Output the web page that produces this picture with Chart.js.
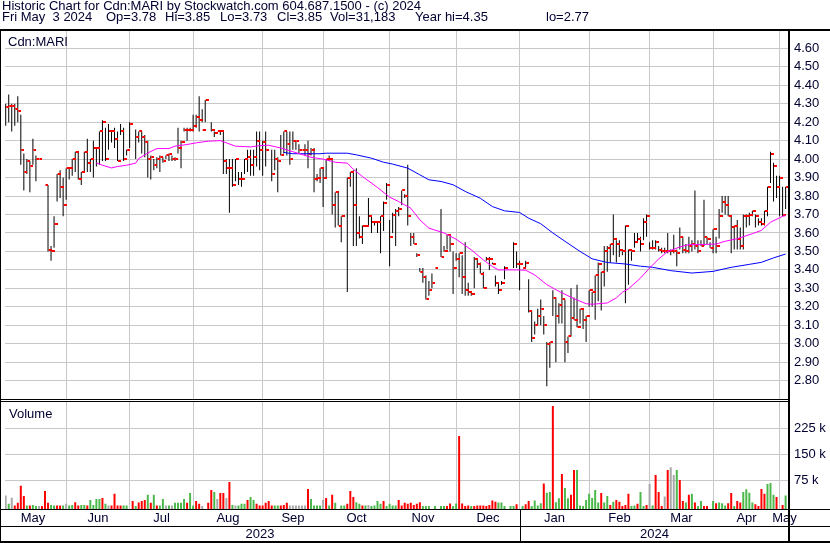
<!DOCTYPE html>
<html>
<head>
<meta charset="utf-8">
<script src="https://cdn.jsdelivr.net/npm/chart.js@4.4.0/dist/chart.umd.min.js"></script>
<style>
  html, body { margin: 0; padding: 0; background: #fff; }
  #wrap { position: relative; width: 830px; height: 543px; }
</style>
</head>
<body>
<div id="wrap"><canvas id="chart" width="830" height="543"></canvas></div>
<script>
// Daily bars, one entry per trading day (null = no trade)
const highs = [4.30,4.35,4.30,4.30,4.34,4.24,4.03,4.00,3.99,4.11,4.02,4.00,null,3.86,3.86,3.53,3.69,3.92,3.94,3.90,
  3.95,3.95,4.00,4.04,4.04,3.93,4.04,4.11,4.00,4.10,4.06,4.15,4.21,4.17,4.19,4.15,4.17,4.15,4.19,4.17,
  4.05,4.20,null,4.16,4.15,4.15,4.13,4.10,4.02,4.00,4.01,4.02,4.01,4.02,4.03,4.02,4.01,4.17,4.10,4.17,
  4.17,4.17,4.24,4.24,4.34,4.27,4.32,null,4.20,4.15,4.15,4.15,4.15,4.00,4.00,4.00,4.00,3.93,3.93,4.00,
  4.05,4.05,4.05,4.15,4.15,4.10,4.15,null,4.05,4.05,4.01,4.13,4.15,4.15,4.15,4.15,4.10,4.08,4.05,4.08,
  4.10,4.06,4.06,3.92,3.95,3.95,4.00,4.02,4.00,3.82,3.82,3.69,null,3.90,3.93,3.94,3.95,3.69,3.64,3.64,
  3.79,3.69,3.66,3.66,3.69,3.77,3.87,3.67,3.71,3.73,3.74,3.83,3.81,3.97,3.60,3.60,3.49,3.41,3.41,3.37,
  3.34,3.38,3.41,null,3.73,3.53,3.59,3.59,3.50,3.49,3.49,3.48,3.55,3.33,3.28,3.47,3.46,3.44,3.39,3.47,
  3.47,3.44,3.37,3.33,3.34,3.42,null,null,3.55,3.50,3.45,3.41,3.45,3.35,3.18,3.12,3.19,3.24,3.15,3.01,
  3.01,3.29,3.25,3.22,3.29,3.24,3.04,3.30,3.25,3.32,3.19,3.19,3.15,3.29,3.28,3.37,3.44,3.39,3.53,3.53,
  3.54,3.70,3.56,3.56,3.50,3.64,3.51,3.50,3.60,3.60,3.58,3.68,3.70,3.55,3.56,3.56,3.53,3.52,3.52,3.60,
  3.51,3.59,3.51,3.63,3.58,3.54,3.58,3.56,3.83,3.56,3.56,3.78,3.58,3.55,3.62,3.58,3.73,3.80,3.80,3.80,
  3.69,3.64,3.67,3.63,3.70,3.70,3.71,3.72,3.70,3.68,3.68,3.72,3.85,4.04,3.98,3.91,3.91,3.85,3.85];
const lows = [4.18,4.20,4.15,4.18,4.20,3.97,3.83,3.92,3.82,3.97,3.88,4.00,null,3.86,3.50,3.45,3.52,3.77,3.79,3.69,
  3.78,3.89,3.91,3.93,3.89,3.86,3.93,3.93,3.93,3.90,3.96,3.97,3.99,3.99,4.05,4.09,4.06,3.99,4.13,3.99,
  4.02,4.06,null,4.00,4.09,4.03,4.01,3.90,3.89,3.94,3.95,3.93,3.98,4.00,3.99,3.99,3.99,4.03,3.95,4.15,
  4.10,4.15,4.15,4.17,4.15,4.20,4.20,null,4.15,4.12,4.15,4.13,3.92,3.92,3.71,3.85,3.88,3.86,3.85,3.92,
  3.93,3.91,3.91,3.96,3.94,3.91,3.96,null,3.88,3.94,3.82,4.02,4.03,4.02,3.97,4.05,4.05,4.03,4.05,4.02,
  3.95,4.02,3.82,3.88,3.87,3.74,3.90,3.99,3.70,3.63,3.64,3.55,null,3.28,3.85,3.53,3.53,3.57,3.54,3.64,
  3.64,3.60,3.64,3.60,3.49,3.61,3.78,3.42,3.60,3.53,3.69,3.75,3.79,3.64,3.53,3.54,3.47,3.39,3.33,3.24,
  3.26,3.30,3.41,null,3.47,3.50,3.51,3.50,3.27,3.45,3.36,3.27,3.26,3.26,3.26,3.30,3.41,3.38,3.30,3.45,
  3.40,3.43,3.31,3.27,3.32,3.35,null,null,3.41,3.41,3.29,3.41,3.41,3.17,3.01,3.05,3.10,3.10,3.05,2.77,
  2.87,3.15,2.90,3.11,3.11,2.90,2.95,3.04,3.13,3.09,3.11,3.08,3.01,3.20,3.20,3.13,3.23,3.18,3.31,3.39,
  3.44,3.48,3.44,3.47,3.48,3.22,3.32,3.45,3.52,3.55,3.50,3.56,3.58,3.51,3.51,3.51,3.50,3.49,3.49,3.49,
  3.48,3.49,3.42,3.51,3.49,3.49,3.49,3.50,3.51,3.49,3.53,3.53,3.54,3.52,3.49,3.49,3.57,3.71,3.70,3.69,
  3.49,3.51,3.51,3.51,3.51,3.63,3.64,3.69,3.63,3.64,3.64,3.64,3.69,3.87,3.77,3.79,3.69,3.69,3.73];
const closes = [4.28,4.29,4.29,4.27,4.26,4.05,3.93,3.99,3.96,4.05,4.00,4.00,null,3.86,3.51,3.50,3.65,3.92,3.85,3.75,
  3.95,3.95,4.00,4.04,3.89,3.93,4.04,3.98,4.00,4.06,4.06,4.15,4.20,4.00,4.15,4.15,4.11,3.99,4.15,4.00,
  4.05,4.19,null,4.12,4.15,4.12,4.09,4.00,4.01,3.97,4.00,4.01,3.99,4.02,4.03,4.00,4.00,4.06,4.09,4.16,
  4.16,4.16,4.18,4.23,4.21,4.16,4.32,null,4.16,4.14,4.15,4.15,3.99,3.95,3.95,3.86,4.00,3.89,3.89,4.00,
  4.01,3.97,4.01,4.10,4.05,4.09,4.05,null,3.92,4.00,3.99,4.02,4.15,4.08,4.00,4.10,4.10,4.05,4.05,4.05,
  4.03,4.05,3.89,3.90,3.95,3.90,4.00,4.00,3.75,3.82,3.64,3.69,null,3.90,3.93,3.75,3.60,3.58,3.64,3.64,
  3.69,3.66,3.66,3.66,3.69,3.76,3.86,3.58,3.70,3.72,3.73,3.83,3.80,3.69,3.58,3.54,3.48,3.39,3.36,3.24,
  3.29,3.33,3.41,null,3.47,3.50,3.59,3.54,3.41,3.46,3.49,3.36,3.29,3.28,3.27,3.46,3.43,3.38,3.30,3.46,
  3.46,3.43,3.33,3.29,3.33,3.41,null,null,3.54,3.43,3.43,3.41,3.44,3.18,3.03,3.10,3.15,3.19,3.10,3.00,
  3.01,3.25,3.15,3.21,3.24,3.01,3.04,3.14,3.13,3.09,3.19,3.13,3.15,3.29,3.28,3.37,3.43,3.39,3.50,3.52,
  3.54,3.57,3.54,3.51,3.50,3.64,3.51,3.50,3.55,3.57,3.54,3.66,3.69,3.52,3.52,3.55,3.51,3.50,3.50,3.50,
  3.50,3.50,3.49,3.58,3.51,3.50,3.53,3.54,3.53,3.50,3.53,3.58,3.57,3.52,3.62,3.53,3.69,3.77,3.75,3.69,
  3.63,3.64,3.57,3.53,3.69,3.69,3.70,3.72,3.69,3.66,3.65,3.72,3.85,4.03,3.96,3.85,3.90,3.70,3.85];

// Daily volume in thousands of shares, and the day's direction (u up, d down, n unchanged)
const volK = [31,7,25,2,10,59,30,2,2,4,1,1,
  1,44,10,4,2,2,2,2,7,2,4,12,2,4,4,2,18,4,21,21,24,7,2,2,36,2,2,2,2,0,15,1,11,15,18,33,10,33,
  2,2,21,2,2,2,10,10,10,21,10,38,2,15,7,1,0,10,47,41,21,38,38,24,70,4,2,2,7,7,18,27,18,7,2,2,
  10,15,2,2,2,2,4,10,2,2,2,2,2,2,50,21,2,2,2,18,24,2,33,10,0,2,2,7,44,27,12,7,2,2,4,1,2,15,7,15,
  1,7,2,2,18,2,10,7,10,4,7,12,1,1,1,0,1,0,1,1,1,8,1,8,203,8,1,2,1,1,2,2,2,1,4,17,13,11,11,1,
  0,1,1,6,0,1,6,15,1,17,2,9,66,39,41,289,12,23,93,53,23,33,105,105,2,
  1,18,36,24,47,11,38,11,30,4,13,18,13,1,4,36,1,2,7,41,1,4,64,2,90,41,1,28,105,113,
  90,105,76,15,11,33,36,11,1,15,1,1,0,15,9,11,9,2,9,38,1,15,11,41,49,39,11,6,1,50,36,64,67,33,27,0,4,31];
const volDir = ('nundddduduun' +
  'ddduuddunu' + 'udduuduuuu' + 'dundddduun' + 'dudddududu' + 'ununuuuudu' + 'uddnnddund' + 'dndunuuudu' + 'uddd' +
  'ddduudddnn' + 'nnnnduuuun' + 'dudunuuddd' + 'uudunuuuud' + 'uuuudddddd' + 'dduuununuu' + 'dduuddddud' +
  'ddddddduuu' + 'nuudnudduu' + 'uuduuduudu' + 'udduu' +
  'uuuuuuduud' + 'uddddduudu' + 'udnudddndn' + 'nuddududuu' + 'ddnuduuudd' + 'udduuuuddd' + 'duuudndu').split('');

// Moving averages: [day index, price]
const maShort = [[30,3.98],[32,3.967],[35,3.952],[37,3.96],[40,3.967],[43,3.978],[44,4.003],[47,4.033],[50,4.057],
  [54,4.057],[56,4.07],[60,4.079],[63,4.088],[67,4.097],[71,4.10],[73,4.088],[76,4.07],[81,4.066],[84,4.073],
  [87,4.075],[91,4.06],[95,4.04],[101,4.01],[105,4.00],[109,3.983],[113,3.978],[115,3.945],[118,3.906],
  [123,3.846],[127,3.794],[130,3.77],[134,3.734],[137,3.671],[140,3.626],[145,3.60],[149,3.566],[154,3.509],
  [158,3.454],[161,3.418],[163,3.40],[169,3.40],[172,3.398],[175,3.373],[179,3.32],[183,3.284],[188,3.244],
  [192,3.217],[194,3.214],[199,3.221],[202,3.248],[204,3.279],[206,3.297],[210,3.356],[213,3.41],[216,3.459],
  [219,3.50],[223,3.524],[226,3.537],[230,3.537],[235,3.54],[238,3.555],[242,3.569],[247,3.596],[250,3.614],
  [253,3.658],[257,3.69],[258,3.694]];
const maLong = [[92,4.036],[95,4.029],[104,4.029],[106,4.032],[113,4.032],[116,4.023],[121,4.005],[125,3.983],
  [128,3.973],[133,3.951],[137,3.915],[140,3.888],[144,3.879],[148,3.861],[152,3.825],[157,3.788],[161,3.743],
  [165,3.72],[170,3.711],[173,3.68],[177,3.65],[181,3.60],[185,3.555],[190,3.50],[194,3.46],[199,3.44],
  [205,3.432],[210,3.42],[214,3.414],[220,3.396],[227,3.383],[234,3.392],[240,3.414],[246,3.43],[250,3.441],
  [254,3.465],[258,3.486]];

// Axis and calendar labels
const priceTicks = [2.8,2.9,3.0,3.1,3.2,3.3,3.4,3.5,3.6,3.7,3.8,3.9,4.0,4.1,4.2,4.3,4.4,4.5,4.6];
const volTicks = [75, 150, 225];
const monthLabels = ['May','Jun','Jul','Aug','Sep','Oct','Nov','Dec','Jan','Feb','Mar','Apr','May'];
const monthStarts = [0,20,41,62,85,105,127,149,170,193,213,234,256];
const yearLabels = ['2023','2024'];
const yearStarts = [0,170];

const titleText = 'Historic Chart for Cdn:MARI by Stockwatch.com 604.687.1500 - (c) 2024';
// quote line pieces with their left edges
const quoteParts = [['Fri May  3 2024', 2], ['Op=3.78', 106], ['Hi=3.85', 165], ['Lo=3.73', 220],
  ['Cl=3.85', 277], ['Vol=31,183', 330], ['Year hi=4.35', 415], ['lo=2.77', 546]];

const FONT = "13px 'Liberation Sans', Arial, sans-serif";
const TEXT = '#000030';
const GRID = '#c8c8c8';

// red close tick drawn to the right of each bar
const tickImg = document.createElement('canvas');
tickImg.width = 7; tickImg.height = 2;
const tctx = tickImg.getContext('2d');
tctx.fillStyle = '#ff0000';
tctx.fillRect(4, 0, 3, 2);

const rangeData = [];
const closeData = [];
highs.forEach((h, i) => {
    if (h === null) return;
    rangeData.push({ x: i, y: [lows[i], h] });
    closeData.push({ x: i, y: closes[i] });
});

const volColors = { u: '#4cb84c', d: '#ff0000', n: '#a8a8a8' };
const volData = [];
const volBg = [];
volK.forEach((v, i) => {
    if (!v) return;
    volData.push({ x: i, y: v });
    volBg.push(volColors[volDir[i]]);
});

const VOL_MIN = -7.8;

const framePlugin = {
    id: 'frame',
    beforeDraw(chart) {
        const ctx = chart.ctx;
        ctx.save();
        ctx.fillStyle = '#fff';
        ctx.fillRect(0, 0, chart.width, chart.height);
        ctx.restore();
    },
    afterDraw(chart) {
        const { ctx, chartArea: a, scales } = chart;
        const W = chart.width, H = chart.height;
        const xs = scales.x;
        ctx.save();
        ctx.font = FONT;
        ctx.fillStyle = TEXT;
        ctx.textBaseline = 'alphabetic';
        ctx.textAlign = 'left';
        ctx.fillText(titleText, 2, 10);
        quoteParts.forEach(p => ctx.fillText(p[0], p[1], 21));
        ctx.fillText('Cdn:MARI', 8, 46);
        ctx.fillText('Volume', 9, 418);

        // month names centred in their spans
        const edges = monthStarts.map((m, i) => i === 0 ? 0 : Math.round(xs.getPixelForValue(m)));
        edges.push(a.right);
        ctx.textAlign = 'center';
        monthLabels.forEach((lab, i) => ctx.fillText(lab, (edges[i] + edges[i + 1]) / 2, 522));
        const yEdges = [0, Math.round(xs.getPixelForValue(yearStarts[1])), a.right];
        yearLabels.forEach((lab, i) => ctx.fillText(lab, (yEdges[i] + yEdges[i + 1]) / 2, 538));

        // frame lines
        ctx.fillStyle = '#000';
        ctx.fillRect(0, 29, W, 2);
        ctx.fillRect(0, 29, 1, H - 29);
        ctx.fillRect(788, 29, 2, H - 29);
        ctx.fillRect(0, 399, 790, 1);
        ctx.fillRect(0, 401, 790, 1);
        ctx.fillRect(0, 509, W, 1);
        ctx.fillRect(0, 526, W, 1);
        ctx.fillRect(0, 541, W, 2);
        ctx.fillRect(yEdges[1], 509, 1, 33);
        ctx.fillStyle = '#fff';
        ctx.fillRect(1, 400, 787, 1);
        ctx.restore();
    }
};

new Chart(document.getElementById('chart').getContext('2d'), {
    type: 'bar',
    data: {
        datasets: [
            {
                type: 'line', data: maShort.map(p => ({ x: p[0], y: p[1] })), yAxisID: 'y',
                borderColor: '#ff00ff', borderWidth: 1, pointRadius: 0, tension: 0, fill: false, order: 0
            },
            {
                type: 'line', data: maLong.map(p => ({ x: p[0], y: p[1] })), yAxisID: 'y',
                borderColor: '#0000ff', borderWidth: 1, pointRadius: 0, tension: 0, fill: false, order: 0
            },
            {
                type: 'line', data: closeData, yAxisID: 'y', showLine: false,
                pointStyle: tickImg, pointRadius: 2, order: 1
            },
            {
                type: 'bar', data: rangeData, yAxisID: 'y', backgroundColor: '#000000',
                barThickness: 1, grouped: false, inflateAmount: 0, order: 2
            },
            {
                type: 'bar', data: volData, yAxisID: 'vol', backgroundColor: volBg,
                barThickness: 2, grouped: false, inflateAmount: 0, base: VOL_MIN, order: 3
            }
        ]
    },
    options: {
        responsive: false,
        devicePixelRatio: 1,
        animation: false,
        events: [],
        layout: { padding: { top: 31, left: 1, right: 0, bottom: 0 } },
        plugins: { legend: { display: false }, tooltip: { enabled: false } },
        scales: {
            x: {
                type: 'linear', min: -0.23, max: 259.12, offset: false,
                grid: { offset: false, color: GRID, drawTicks: false },
                border: { display: false },
                ticks: { display: false },
                afterBuildTicks: s => { s.ticks = monthStarts.slice(1).map(v => ({ value: v })); },
                afterFit: s => { s.height = 34; }
            },
            y: {
                type: 'linear', position: 'right', stack: 'panels', stackWeight: 369.5,
                min: 2.6928, max: 4.6937,
                grid: { color: GRID, drawTicks: false },
                border: { display: false },
                ticks: { color: TEXT, font: { family: "'Liberation Sans', Arial, sans-serif", size: 13 }, padding: 5,
                    autoSkip: false, callback: v => v.toFixed(2) },
                afterBuildTicks: s => { s.ticks = priceTicks.map(v => ({ value: v })); },
                afterFit: s => { s.width = 41; }
            },
            vol: {
                type: 'linear', position: 'right', stack: 'panels', stackWeight: 108.5,
                min: VOL_MIN, max: 305.2,
                grid: { color: GRID, drawTicks: false },
                border: { display: false },
                ticks: { color: TEXT, font: { family: "'Liberation Sans', Arial, sans-serif", size: 13 }, padding: 5,
                    autoSkip: false, callback: v => v + ' k' },
                afterBuildTicks: s => { s.ticks = volTicks.map(v => ({ value: v })); },
                afterFit: s => { s.width = 41; }
            }
        }
    },
    plugins: [framePlugin]
});
</script>
</body>
</html>
